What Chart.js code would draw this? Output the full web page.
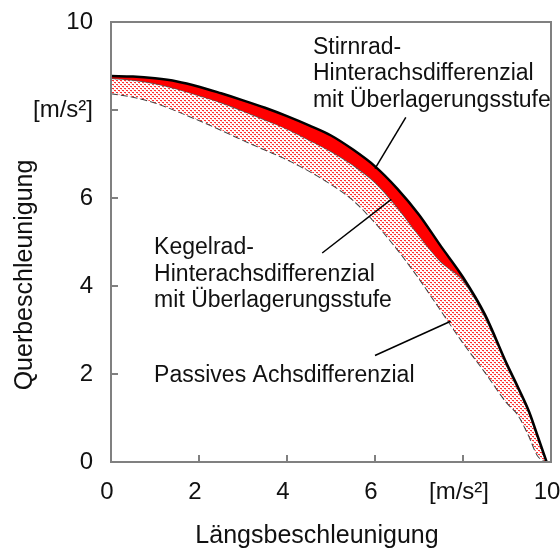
<!DOCTYPE html>
<html>
<head>
<meta charset="utf-8">
<script src="https://cdn.jsdelivr.net/npm/chart.js@4.4.1/dist/chart.umd.min.js"></script>
<style>
  body { margin: 0; background: #fff; }
</style>
</head>
<body>
<canvas id="chart" width="560" height="550"></canvas>
<script>
// Laengsbeschleunigung [m/s²] (shared x for all three curves)
const xs = [0, 0.5, 1, 1.5, 2, 2.5, 3, 3.5, 4, 4.5, 5, 5.5, 6, 6.5, 7, 7.5, 8, 8.5, 9, 9.25, 9.5, 9.7, 9.9];
// Querbeschleunigung [m/s²]
const stirnrad = [8.77, 8.76, 8.72, 8.65, 8.53, 8.38, 8.22, 8.05, 7.86, 7.65, 7.42, 7.10, 6.72, 6.22, 5.62, 4.90, 4.20, 3.35, 2.22, 1.70, 1.15, 0.58, 0];
const kegelrad = [8.72, 8.68, 8.60, 8.48, 8.33, 8.17, 7.98, 7.78, 7.57, 7.32, 7.06, 6.75, 6.36, 5.80, 5.15, 4.55, 4.13, 3.30, 2.18, 1.66, 1.11, 0.55, 0];
const passiv = [8.38, 8.30, 8.17, 7.98, 7.77, 7.55, 7.32, 7.10, 6.88, 6.62, 6.32, 5.96, 5.45, 4.85, 4.18, 3.45, 2.72, 2.05, 1.35, 1.08, 0.60, 0.15, 0];

const xTicks = [0, 2, 4, 6, 8, 10];
const xTickLabels = ['0', '2', '4', '6', '[m/s²]', '10'];
const yTickLabels = ['0', '2', '4', '6', '[m/s²]', '10'];

const xTitle = 'Längsbeschleunigung';
const yTitle = 'Querbeschleunigung';

// annotation texts and their leader lines (data units)
const labels = [
  { lines: ['Stirnrad-', 'Hinterachsdifferenzial', 'mit Überlagerungsstufe'], x: 4.59, y: 9.42 },
  { lines: ['Kegelrad-', 'Hinterachsdifferenzial', 'mit Überlagerungsstufe'], x: 0.98, y: 4.87 },
  { lines: ['Passives Achsdifferenzial'], x: 0.98, y: 1.96 }
];
const leaders = [
  [[6.70, 7.83], [6.00, 6.67]],
  [[4.80, 4.75], [6.37, 5.97]],
  [[6.00, 2.42], [7.72, 3.20]]
];

const FONT = "'Liberation Sans', Arial, sans-serif";
const GRAY = '#808080';

function makeHatch() {
  const c = document.createElement('canvas');
  c.width = 4;
  c.height = 4;
  const g = c.getContext('2d');
  g.fillStyle = '#ffffff';
  g.fillRect(0, 0, 4, 4);
  g.fillStyle = '#ff3030';
  const dots = [[0, 0], [1, 0], [2, 2], [3, 2]];
  dots.forEach(p => g.fillRect(p[0], p[1], 1, 1));
  g.fillStyle = '#ffc0c0';
  const soft = [[1, 1], [3, 3]];
  soft.forEach(p => g.fillRect(p[0], p[1], 1, 1));
  return g.createPattern(c, 'repeat');
}

function pts(ys) {
  return xs.map((x, i) => ({ x: x, y: ys[i] }));
}

const decor = {
  id: 'decor',
  afterDatasetsDraw(chart) {
    const ctx = chart.ctx;
    const a = chart.chartArea;
    const sx = chart.scales.x;
    const sy = chart.scales.y;
    ctx.save();

    // frame and inward ticks
    ctx.strokeStyle = GRAY;
    ctx.lineWidth = 2;
    ctx.strokeRect(a.left, a.top, a.right - a.left, a.bottom - a.top);
    ctx.beginPath();
    xTicks.slice(1, -1).forEach(v => {
      const px = Math.round(sx.getPixelForValue(v));
      ctx.moveTo(px, a.bottom);
      ctx.lineTo(px, a.bottom - 7);
      const py = Math.round(sy.getPixelForValue(v));
      ctx.moveTo(a.left, py);
      ctx.lineTo(a.left + 7, py);
    });
    ctx.stroke();

    // leader lines
    ctx.strokeStyle = '#000';
    ctx.lineWidth = 1.5;
    leaders.forEach(l => {
      ctx.beginPath();
      ctx.moveTo(sx.getPixelForValue(l[0][0]), sy.getPixelForValue(l[0][1]));
      ctx.lineTo(sx.getPixelForValue(l[1][0]), sy.getPixelForValue(l[1][1]));
      ctx.stroke();
    });

    // annotation texts
    ctx.fillStyle = '#111';
    ctx.font = '23px ' + FONT;
    ctx.textAlign = 'left';
    ctx.textBaseline = 'middle';
    labels.forEach(lb => {
      const px = sx.getPixelForValue(lb.x);
      const py = sy.getPixelForValue(lb.y);
      lb.lines.forEach((t, i) => ctx.fillText(t, px, py + i * 26.5));
    });

    // axis titles
    ctx.font = '25px ' + FONT;
    ctx.textAlign = 'center';
    ctx.textBaseline = 'alphabetic';
    ctx.fillText(xTitle, 317, 543);
    ctx.translate(32, 275);
    ctx.rotate(-Math.PI / 2);
    ctx.fillText(yTitle, 0, 0);
    ctx.restore();
  }
};

const hatch = makeHatch();

new Chart(document.getElementById('chart'), {
  type: 'line',
  data: {
    datasets: [
      {
        label: 'Stirnrad',
        data: pts(stirnrad),
        borderColor: '#000',
        borderWidth: 2.5,
        backgroundColor: '#ff0000',
        fill: '+1',
        pointRadius: 0,
        cubicInterpolationMode: 'monotone'
      },
      {
        label: 'Kegelrad',
        data: pts(kegelrad),
        borderColor: '#555',
        borderWidth: 1.5,
        backgroundColor: hatch,
        fill: '+1',
        pointRadius: 0,
        cubicInterpolationMode: 'monotone'
      },
      {
        label: 'Passiv',
        data: pts(passiv),
        borderColor: '#444',
        borderWidth: 2,
        borderDash: [7, 3],
        fill: false,
        pointRadius: 0,
        cubicInterpolationMode: 'monotone'
      }
    ]
  },
  options: {
    responsive: false,
    animation: false,
    layout: { padding: { top: 22, right: 9, left: 0, bottom: 0 } },
    plugins: {
      legend: { display: false },
      tooltip: { enabled: false }
    },
    scales: {
      x: {
        type: 'linear',
        min: 0,
        max: 10,
        grid: { display: false },
        border: { display: false },
        ticks: {
          stepSize: 2,
          padding: 8,
          labelOffset: -4,
          color: '#111',
          font: { family: FONT, size: 24 },
          callback: v => xTickLabels[xTicks.indexOf(v)]
        },
        afterFit: s => { s.height = 88; s.paddingLeft = 0; s.paddingRight = 0; }
      },
      y: {
        min: 0,
        max: 10,
        grid: { display: false },
        border: { display: false },
        ticks: {
          stepSize: 2,
          padding: 10,
          color: '#111',
          font: { family: FONT, size: 24 },
          callback: v => yTickLabels[xTicks.indexOf(v)]
        },
        afterFit: s => { s.width = 111; s.paddingTop = 0; s.paddingBottom = 0; }
      }
    }
  },
  plugins: [decor]
});
</script>
</body>
</html>
